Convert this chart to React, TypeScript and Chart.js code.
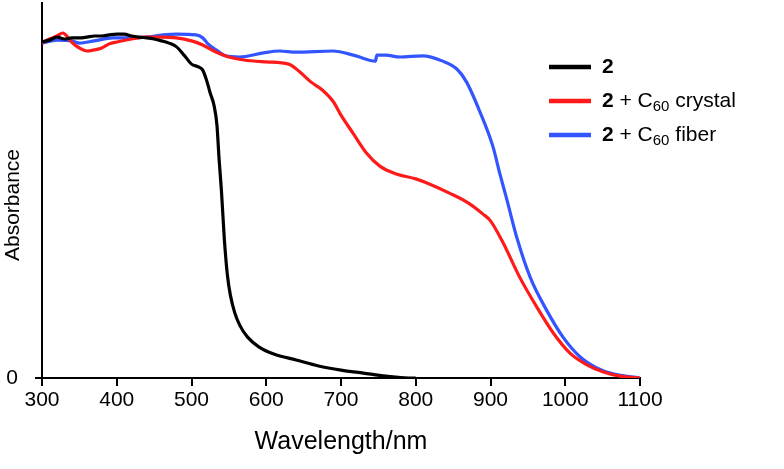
import React, { useEffect, useRef } from "react";
import { Chart, registerables } from "chart.js";

Chart.register(...registerables);

const xTicks = [300, 400, 500, 600, 700, 800, 900, 1000, 1100];

const blackX = [300, 310, 320, 330, 340, 350, 360, 370, 380, 390, 400, 410, 420, 430, 440, 450, 460, 470, 480, 490, 500, 510, 515, 520, 525, 530, 534, 537, 540, 544, 548, 552, 558, 565, 575, 590, 610, 640, 670, 700, 730, 760, 790, 800];
const blackY = [0.896, 0.901, 0.909, 0.904, 0.907, 0.907, 0.909, 0.912, 0.912, 0.915, 0.917, 0.917, 0.912, 0.909, 0.907, 0.904, 0.899, 0.893, 0.883, 0.861, 0.837, 0.829, 0.821, 0.795, 0.76, 0.728, 0.675, 0.581, 0.501, 0.368, 0.275, 0.221, 0.173, 0.139, 0.109, 0.083, 0.064, 0.048, 0.032, 0.021, 0.013, 0.005, 0.0, 0.0];

const redX = [300, 310, 320, 328, 335, 341, 350, 360, 370, 380, 390, 400, 420, 440, 460, 480, 500, 515, 530, 550, 570, 600, 630, 645, 660, 675, 690, 700, 716, 734, 752, 774, 800, 815, 845, 870, 890, 900, 917, 939, 962, 984, 1006, 1029, 1051, 1073, 1100];
const redY = [0.893, 0.904, 0.912, 0.92, 0.907, 0.893, 0.88, 0.872, 0.875, 0.88, 0.891, 0.896, 0.904, 0.909, 0.909, 0.907, 0.899, 0.888, 0.872, 0.856, 0.848, 0.843, 0.837, 0.816, 0.789, 0.768, 0.736, 0.701, 0.653, 0.6, 0.565, 0.544, 0.531, 0.52, 0.493, 0.467, 0.437, 0.419, 0.36, 0.269, 0.189, 0.12, 0.067, 0.035, 0.016, 0.005, 0.0];

const blueX = [300, 320, 340, 350, 370, 395, 420, 440, 462, 480, 506, 515, 522, 533, 546, 564, 596, 618, 640, 689, 720, 746, 748, 760, 779, 809, 836, 855, 868, 886, 903, 913, 922, 935, 953, 975, 997, 1020, 1042, 1064, 1100];
const blueY = [0.893, 0.901, 0.899, 0.893, 0.899, 0.907, 0.907, 0.909, 0.915, 0.917, 0.915, 0.907, 0.891, 0.875, 0.859, 0.856, 0.867, 0.872, 0.869, 0.872, 0.859, 0.845, 0.861, 0.861, 0.856, 0.859, 0.845, 0.824, 0.789, 0.709, 0.619, 0.541, 0.475, 0.376, 0.269, 0.181, 0.109, 0.056, 0.027, 0.011, 0.0];

const seriesNames = ["2", "2 + C60 crystal", "2 + C60 fiber"];
const seriesColors = ["#000000", "#ff1a1a", "#3355ff"];

const SANS = "'Liberation Sans', Arial, Helvetica, sans-serif";

const toPts = (xs: number[], ys: number[]) => xs.map((x, i) => ({ x, y: ys[i] }));

const legendPlugin = {
  id: "customLegend",
  afterDraw(chart: any) {
    const ctx = chart.ctx as CanvasRenderingContext2D;
    const rows = [
      { color: seriesColors[0], parts: [{ t: "2", bold: true }] },
      { color: seriesColors[1], parts: [{ t: "2", bold: true }, { t: " + C" }, { t: "60", sub: true }, { t: " crystal" }] },
      { color: seriesColors[2], parts: [{ t: "2", bold: true }, { t: " + C" }, { t: "60", sub: true }, { t: " fiber" }] },
    ];
    const ys = [67, 101, 135];
    ctx.save();
    rows.forEach((r, i) => {
      const y = ys[i];
      ctx.strokeStyle = r.color;
      ctx.lineWidth = 4.5;
      ctx.beginPath();
      ctx.moveTo(549, y);
      ctx.lineTo(591, y);
      ctx.stroke();
      let x = 602;
      ctx.fillStyle = "#000";
      ctx.textBaseline = "middle";
      ctx.textAlign = "left";
      r.parts.forEach((p: any) => {
        if (p.sub) {
          ctx.font = `15px ${SANS}`;
          ctx.fillText(p.t, x, y + 6);
        } else {
          ctx.font = `${p.bold ? "bold " : ""}21px ${SANS}`;
          ctx.fillText(p.t, x, y);
        }
        x += ctx.measureText(p.t).width;
      });
    });
    ctx.translate(13, 205);
    ctx.rotate(-Math.PI / 2);
    ctx.font = `21px ${SANS}`;
    ctx.textAlign = "center";
    ctx.textBaseline = "middle";
    ctx.fillStyle = "#000";
    ctx.fillText("Absorbance", 0, 0);
    ctx.restore();
  },
};

const noPad = (s: any) => {
  s.paddingTop = 0;
  s.paddingBottom = 0;
  s.paddingLeft = 0;
  s.paddingRight = 0;
};

export default function App() {
  const ref = useRef<HTMLCanvasElement>(null);
  useEffect(() => {
    document.body.style.margin = "0";
    const mk = (i: number, xs: number[], ys: number[]) => ({
      label: seriesNames[i],
      data: toPts(xs, ys),
      borderColor: seriesColors[i],
      borderWidth: 3.2,
      pointRadius: 0,
      cubicInterpolationMode: "monotone",
    });
    const chart = new Chart(ref.current!, {
      type: "line",
      data: {
        datasets: [mk(0, blackX, blackY), mk(1, redX, redY), mk(2, blueX, blueY)],
      },
      options: {
        animation: false,
        responsive: false,
        maintainAspectRatio: false,
        layout: { padding: { top: 3, right: 144, left: 0, bottom: 0 } },
        plugins: { legend: { display: false }, tooltip: { enabled: false } },
        scales: {
          x: {
            type: "linear",
            min: 300,
            max: 1100,
            afterBuildTicks: (s: any) => { s.ticks = xTicks.map((v) => ({ value: v })); },
            afterFit: (s: any) => { s.height = 91; noPad(s); },
            border: { display: true, color: "#000", width: 2 },
            grid: { drawOnChartArea: false, color: "#000", lineWidth: 2, tickLength: 8 },
            ticks: {
              color: "#000",
              font: { family: SANS, size: 21 },
              padding: 2,
              maxRotation: 0,
              autoSkip: false,
              callback: (v: any) => String(v),
            },
            title: {
              display: true,
              text: "Wavelength/nm",
              color: "#000",
              font: { family: SANS, size: 25 },
              padding: { top: 2, bottom: 12 },
            },
          },
          y: {
            type: "linear",
            min: 0,
            max: 1,
            afterBuildTicks: (s: any) => { s.ticks = [{ value: 0 }]; },
            afterFit: (s: any) => { s.width = 42; noPad(s); },
            border: { display: true, color: "#000", width: 2 },
            grid: { drawOnChartArea: false, color: "#000", lineWidth: 2, tickLength: 7 },
            ticks: { color: "#000", font: { family: SANS, size: 21 }, padding: 17, callback: (v: any) => String(v) },
          },
        },
      },
      plugins: [legendPlugin],
    } as any);
    return () => chart.destroy();
  }, []);
  return <canvas ref={ref} width={784} height={469} style={{ display: "block", width: 784, height: 469 }} />;
}
